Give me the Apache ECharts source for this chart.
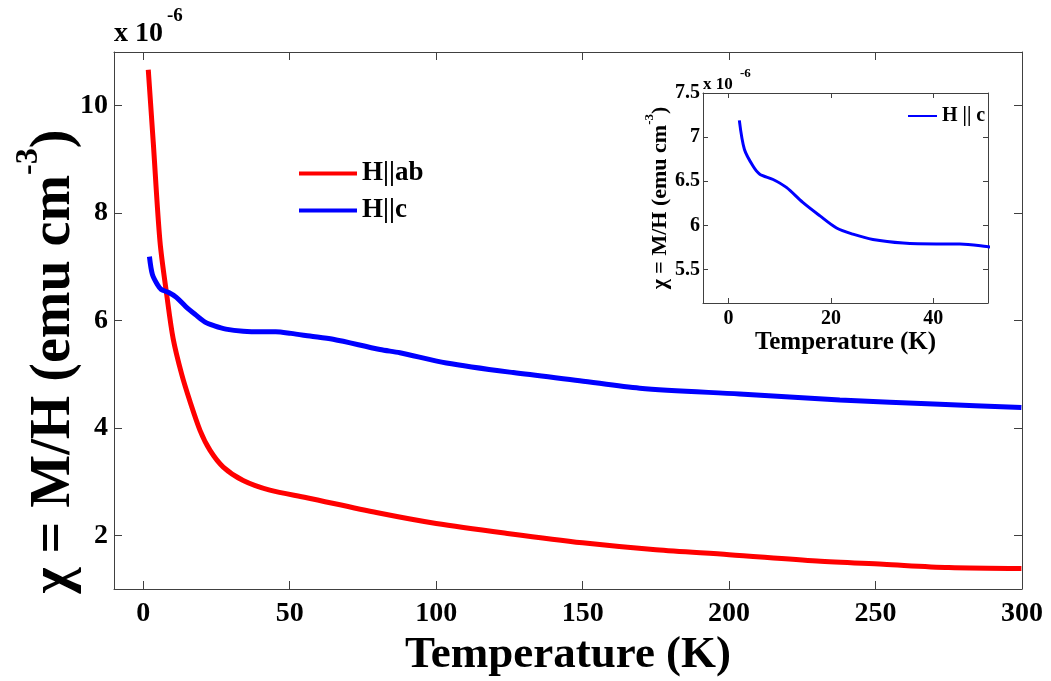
<!DOCTYPE html>
<html>
<head>
<meta charset="utf-8">
<script src="https://cdn.jsdelivr.net/npm/echarts@6/dist/echarts.min.js"></script>
<style>
  html, body { margin: 0; padding: 0; background: #fff; }
  #main { width: 1051px; height: 681px; }
</style>
</head>
<body>
<div id="main"></div>
<script>
// H||ab (T in K, chi in 1e-6 emu cm^-3)
var redT = [1.7, 3.4, 5.7, 8.0, 10.2, 13.1, 15.9, 19.4, 22.8, 27.3, 34.1, 43.2, 55.8, 80, 100, 125, 150, 175, 200, 230, 252.6, 275, 299.8];
var redV = [10.67, 9.32, 7.47, 6.48, 5.66, 5.0, 4.5, 3.95, 3.58, 3.27, 3.02, 2.84, 2.70, 2.42, 2.22, 2.03, 1.86, 1.73, 1.64, 1.52, 1.46, 1.40, 1.38];
// H||c, low T part, the rest off the main panel
var blueT = [2.1, 3.1, 4.8, 6.1, 8.7, 11.3, 14.5, 17.8, 21.1, 24.3, 28.2, 34.1, 40.6, 45.2, 50.4, 56.9, 64.8, 80.8, 87.6, 103.5, 126.3, 149, 169.5, 203.6, 237.8, 271.9, 299.8];
var blueV = [7.19, 6.86, 6.67, 6.58, 6.52, 6.43, 6.26, 6.11, 5.97, 5.90, 5.84, 5.80, 5.79, 5.79, 5.76, 5.71, 5.65, 5.46, 5.40, 5.21, 5.03, 4.88, 4.74, 4.63, 4.52, 4.44, 4.38];

var mainXTicks = [0, 50, 100, 150, 200, 250, 300];
var mainYTicks = [2, 4, 6, 8, 10];
var insetXTicks = [0, 20, 40];
var insetYTicks = [5.5, 6, 6.5, 7, 7.5];

var FONT = '"Liberation Serif", "Times New Roman", serif';
var AXIS_COLOR = '#404040';

function pairs(t, v, maxT) {
    var out = [];
    for (var i = 0; i < t.length; i++) {
        if (maxT === undefined || t[i] <= maxT) out.push([t[i], v[i]]);
    }
    return out;
}

// one axis factory, the mirrored (top/right) copies only carry ticks
function axis(opt) {
    var a = {
        type: 'value',
        gridIndex: opt.grid,
        position: opt.position,
        min: opt.min,
        max: opt.max,
        axisLine: { show: true, onZero: false, lineStyle: { color: AXIS_COLOR, width: 1 } },
        axisTick: { show: true, inside: true, length: opt.tickLen, customValues: opt.ticks, lineStyle: { color: AXIS_COLOR } },
        axisLabel: { show: !!opt.label, customValues: opt.ticks, margin: opt.margin || 8,
            fontFamily: FONT, fontWeight: 'bold', fontSize: opt.fontSize || 28, color: '#000' },
        splitLine: { show: false }
    };
    if (opt.name) {
        a.name = opt.name;
        a.nameLocation = 'middle';
        a.nameGap = opt.nameGap;
        a.nameRotate = opt.nameRotate || 0;
        a.nameTextStyle = opt.nameStyle;
        if (opt.noMove) a.nameMoveOverlap = false;
    }
    return a;
}

var chart = echarts.init(document.getElementById('main'));

chart.setOption({
    backgroundColor: '#fff',
    animation: false,
    grid: [
        { left: 114, top: 52, right: 29, bottom: 92, outerBoundsMode: 'none', containLabel: false },
        { left: 703, top: 93, width: 285, height: 210, show: true, backgroundColor: '#fff', borderWidth: 0,
          outerBoundsMode: 'none', containLabel: false }
    ],
    xAxis: [
        axis({ grid: 0, position: 'bottom', min: -10, max: 300, ticks: mainXTicks, tickLen: 8, label: true, margin: 11,
            name: 'Temperature (K)', nameGap: 40,
            nameStyle: { fontFamily: FONT, fontWeight: 'bold', fontSize: 45, color: '#000' } }),
        axis({ grid: 0, position: 'top', min: -10, max: 300, ticks: mainXTicks, tickLen: 8 }),
        axis({ grid: 1, position: 'bottom', min: -5, max: 50.7, ticks: insetXTicks, tickLen: 5, label: true, margin: 6, fontSize: 20,
            name: 'Temperature (K)', nameGap: 24,
            nameStyle: { fontFamily: FONT, fontWeight: 'bold', fontSize: 25, color: '#000' } }),
        axis({ grid: 1, position: 'top', min: -5, max: 50.7, ticks: insetXTicks, tickLen: 5 })
    ],
    yAxis: [
        axis({ grid: 0, position: 'left', min: 1, max: 11, ticks: mainYTicks, tickLen: 8, label: true, margin: 6,
            name: '{b|χ = M/H (emu cm}{s|-3}{b|)}', nameGap: 31, nameRotate: 90, noMove: true,
            nameStyle: { color: '#000', padding: [0, 82, 0, 0], rich: {
                b: { fontFamily: FONT, fontWeight: 'bold', fontSize: 56, lineHeight: 70, verticalAlign: 'bottom', color: '#000' },
                s: { fontFamily: FONT, fontWeight: 'bold', fontSize: 32, lineHeight: 32, padding: [0, 0, 57, 0], verticalAlign: 'top', color: '#000' }
            } } }),
        axis({ grid: 0, position: 'right', min: 1, max: 11, ticks: mainYTicks, tickLen: 8 }),
        axis({ grid: 1, position: 'left', min: 5.12, max: 7.5, ticks: insetYTicks, tickLen: 5, label: true, margin: 3, fontSize: 20,
            name: '{b|χ = M/H (emu cm}{s|-3}{b|)}', nameGap: 30, nameRotate: 90,
            nameStyle: { color: '#000', rich: {
                b: { fontFamily: FONT, fontWeight: 'bold', fontSize: 22, lineHeight: 28, verticalAlign: 'bottom', color: '#000' },
                s: { fontFamily: FONT, fontWeight: 'bold', fontSize: 13, lineHeight: 13, verticalAlign: 'top', color: '#000' }
            } } }),
        axis({ grid: 1, position: 'right', min: 5.12, max: 7.5, ticks: insetYTicks, tickLen: 5 })
    ],
    legend: [
        {
            data: ['H||ab', 'H||c'], orient: 'vertical', left: 294, top: 155,
            icon: 'rect', itemWidth: 58, itemHeight: 4, itemGap: 10, selectedMode: false,
            textStyle: { fontFamily: FONT, fontWeight: 'bold', fontSize: 27, color: '#000' }
        },
        {
            data: ['H || c'], orient: 'vertical', left: 903, top: 101,
            icon: 'rect', itemWidth: 29, itemHeight: 2, selectedMode: false,
            textStyle: { fontFamily: FONT, fontWeight: 'bold', fontSize: 20, color: '#000' }
        }
    ],
    graphic: [
        { type: 'text', left: 114, top: 20, style: { text: 'x 10', font: 'bold 28px ' + FONT, fill: '#000' } },
        { type: 'text', left: 167, top: 7, style: { text: '-6', font: 'bold 19px ' + FONT, fill: '#000' } },
        { type: 'text', left: 703, top: 76, z: 10, style: { text: 'x 10', font: 'bold 17px ' + FONT, fill: '#000' } },
        { type: 'text', left: 740, top: 67, z: 10, style: { text: '-6', font: 'bold 13px ' + FONT, fill: '#000' } }
    ],
    series: [
        {
            name: 'H||ab', type: 'line', xAxisIndex: 0, yAxisIndex: 0,
            data: pairs(redT, redV), symbol: 'none', smooth: 0.3,
            lineStyle: { color: '#ff0000', width: 5 }, itemStyle: { color: '#ff0000' }
        },
        {
            name: 'H||c', type: 'line', xAxisIndex: 0, yAxisIndex: 0,
            data: pairs(blueT, blueV), symbol: 'none', smooth: 0.3,
            lineStyle: { color: '#0000ff', width: 5 }, itemStyle: { color: '#0000ff' }
        },
        {
            name: 'H || c', type: 'line', xAxisIndex: 2, yAxisIndex: 2,
            data: pairs(blueT, blueV, 60), symbol: 'none', smooth: 0.3, z: 5,
            lineStyle: { color: '#0000ff', width: 3 }, itemStyle: { color: '#0000ff' }
        }
    ]
});
</script>
</body>
</html>
